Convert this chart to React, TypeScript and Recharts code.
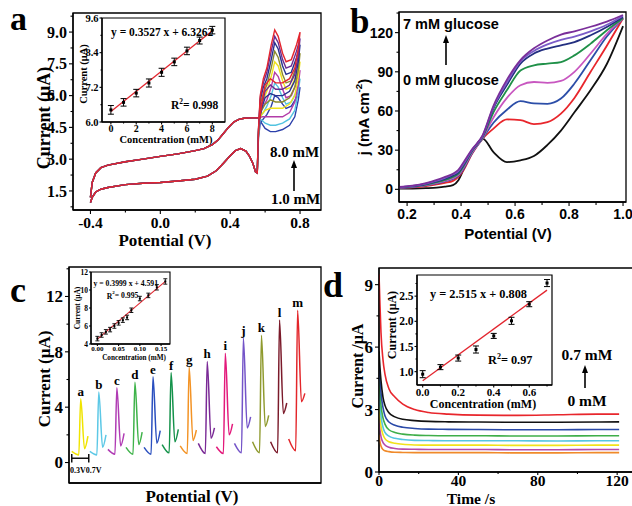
import React from 'react';
import { ComposedChart, Line, Scatter, XAxis, YAxis, ErrorBar, ReferenceArea, ReferenceLine } from 'recharts';

const SERIF = '"Liberation Serif", "Times New Roman", serif';
const SANS = '"Liberation Sans", Arial, sans-serif';

// ---------- panel a : CV curves, 1.0 - 8.0 mM (listed top to bottom) ----------
const aColors = ['#e3262f', '#6a2c91', '#27318f', '#8c8a2c', '#efe21c', '#b23ca8', '#52c3e0', '#2c40aa'];
const aLowX = [-0.4, -0.39, -0.37, -0.34, -0.3, -0.2, -0.1, 0.0, 0.1, 0.2, 0.27, 0.32, 0.36, 0.4, 0.43, 0.46, 0.49, 0.51, 0.53, 0.545, 0.555];
const aLowY = [0.95, 1.2, 1.45, 1.58, 1.66, 1.8, 1.86, 1.9, 1.97, 2.05, 2.2, 2.45, 2.8, 3.16, 3.4, 3.5, 3.38, 3.15, 2.8, 2.4, 2.35];
const aFwdX = [0.562, 0.572, 0.59, 0.61, 0.635, 0.655, 0.675, 0.7, 0.72, 0.75, 0.78, 0.8];
const aFwdY = [
  [4.4, 6.0, 6.8, 7.3, 8.4, 9.1, 8.8, 8.0, 7.6, 7.7, 8.4, 9.0],
  [4.4, 5.9, 6.6, 7.1, 8.1, 8.8, 8.5, 7.7, 7.3, 7.4, 8.1, 8.7],
  [4.3, 5.8, 6.4, 6.8, 7.7, 8.5, 8.2, 7.4, 7.0, 7.1, 7.8, 8.4],
  [4.3, 5.6, 6.1, 6.5, 7.3, 8.1, 7.8, 7.0, 6.6, 6.7, 7.4, 8.0],
  [4.2, 5.4, 5.8, 6.2, 6.9, 7.6, 7.4, 6.7, 6.3, 6.4, 7.0, 7.6],
  [4.2, 5.2, 5.5, 5.8, 6.4, 7.1, 6.9, 6.3, 5.9, 6.0, 6.6, 7.2],
  [4.1, 5.0, 5.2, 5.5, 6.0, 6.6, 6.4, 5.9, 5.6, 5.7, 6.2, 6.8],
  [4.0, 4.7, 4.9, 5.1, 5.5, 6.0, 5.9, 5.6, 5.4, 5.5, 5.9, 6.4],
];
const aRevX = [0.8, 0.79, 0.77, 0.74, 0.7, 0.66, 0.63, 0.6, 0.58, 0.57];
const aRevY = [
  [9.0, 8.2, 7.3, 6.8, 6.6, 6.6, 6.8, 6.5, 5.6, 5.0],
  [8.7, 7.9, 7.0, 6.5, 6.3, 6.3, 6.5, 6.2, 5.5, 5.0],
  [8.4, 7.6, 6.7, 6.2, 6.0, 6.0, 6.1, 5.9, 5.4, 5.0],
  [8.0, 7.2, 6.4, 5.9, 5.7, 5.7, 5.8, 5.6, 5.3, 5.0],
  [7.6, 6.9, 6.0, 5.6, 5.4, 5.4, 5.4, 5.3, 5.1, 4.95],
  [7.2, 6.5, 5.7, 5.2, 5.0, 5.0, 5.0, 5.0, 5.0, 4.95],
  [6.8, 6.2, 5.3, 4.9, 4.7, 4.6, 4.6, 4.7, 4.85, 4.9],
  [6.4, 5.8, 5.0, 4.6, 4.4, 4.3, 4.3, 4.45, 4.7, 4.9],
];
const aUpX = [0.57, 0.55, 0.52, 0.48, 0.45, 0.42, 0.39, 0.36, 0.33, 0.3, 0.25, 0.2, 0.1, 0.0, -0.1, -0.2, -0.3, -0.34, -0.37, -0.39, -0.4];
const aUpY = [4.95, 4.95, 4.95, 4.93, 4.88, 4.75, 4.5, 4.2, 3.9, 3.7, 3.5, 3.4, 3.25, 3.13, 3.0, 2.88, 2.72, 2.6, 2.35, 1.9, 1.2];
const aXTicks = [-0.4, -0.2, 0, 0.2, 0.4, 0.6, 0.8];
const aXMajor = [-0.4, 0, 0.4, 0.8];
const aYTicks = [0.75, 1.5, 2.25, 3, 3.75, 4.5, 5.25, 6, 6.75, 7.5, 8.25, 9, 9.75];
const aYMajor = [1.5, 3, 4.5, 6, 7.5, 9];

// panel a inset
const aConc = [0, 1, 2, 3, 4, 5, 6, 7, 8];
const aCur = [6.42, 6.68, 7.0, 7.35, 7.72, 8.08, 8.46, 8.82, 9.18];
const aErr = [0.15, 0.13, 0.13, 0.14, 0.14, 0.13, 0.13, 0.12, 0.13];
const aFitX = [0, 8];
const aFitY = [6.36, 9.16];
const aiXTicks = [0, 1, 2, 3, 4, 5, 6, 7, 8];
const aiXMajor = [0, 2, 4, 6, 8];
const aiYTicks = [6, 6.6, 7.2, 7.8, 8.4, 9.0, 9.6];
const aiYMajor = [6, 7.2, 8.4, 9.6];

// ---------- panel b : LSV, 0 - 7 mM glucose ----------
const bColors = ['#111111', '#e8262c', '#2c4ea8', '#c857c0', '#1f9048', '#232f80', '#7b5cc8', '#7a2f9a'];
const bX = [0.17, 0.22, 0.27, 0.31, 0.34, 0.37, 0.39, 0.41, 0.44, 0.48, 0.52, 0.57, 0.62, 0.67, 0.72, 0.77, 0.82, 0.88, 0.94, 1.0];
const bY = [
  [0.5, 0.6, 0.9, 1.3, 2.0, 3.2, 7, 15.5, 28, 38.8, 28.5, 20.9, 22.2, 25.5, 34, 45, 59, 76, 96, 125],
  [1.0, 1.5, 2.5, 3.8, 5.0, 6.5, 9.5, 15, 27, 38.8, 46.5, 53.5, 53, 50, 51.5, 58, 70, 90, 110, 131],
  [1.2, 1.8, 3.0, 4.5, 6.0, 8.0, 10.5, 16, 27.5, 39, 51, 61, 67.5, 65.8, 65.5, 69.5, 81, 99, 117, 131],
  [1.4, 2.0, 3.3, 5.0, 6.5, 8.5, 11, 17, 28, 39.5, 55, 70, 79.7, 82.2, 81.5, 83, 90, 104, 119, 131],
  [1.5, 2.2, 3.6, 5.5, 7.2, 9.5, 12, 18, 29, 40, 59, 76, 91, 95, 96.3, 97.5, 102.6, 111.6, 121.8, 131],
  [1.6, 2.4, 4.0, 6.0, 8.0, 10.5, 13, 19, 29.5, 40.5, 62, 80, 96.3, 104, 107.8, 110.3, 112.8, 118, 124.3, 132],
  [1.7, 2.6, 4.4, 6.6, 8.8, 11.5, 14, 20, 30, 41, 63, 82, 98, 106, 111, 114.5, 117, 121, 126, 133],
  [1.8, 2.8, 4.8, 7.2, 9.5, 12, 15, 21, 30.5, 41.5, 64, 84, 99, 108, 114, 118.5, 121, 124.5, 128.5, 133.5],
];
const bXTicks = [0.2, 0.3, 0.4, 0.5, 0.6, 0.7, 0.8, 0.9, 1.0];
const bXMajor = [0.2, 0.4, 0.6, 0.8, 1.0];
const bYTicks = [0, 15, 30, 45, 60, 75, 90, 105, 120, 135];
const bYMajor = [0, 30, 60, 90, 120];

// ---------- panel c : DPV peaks a - m ----------
const cLetters = ['a', 'b', 'c', 'd', 'e', 'f', 'g', 'h', 'i', 'j', 'k', 'l', 'm'];
const cColors = ['#f0e400', '#5cc8e6', '#b03cb4', '#3fb34a', '#2a4fbf', '#14924a', '#f39325', '#7a2a96', '#e3197b', '#7454c8', '#8f9a2e', '#7b1a2a', '#e3262a'];
const cOffsets = [0, 0.425, 0.85, 1.275, 1.7, 2.125, 2.55, 2.975, 3.4, 3.825, 4.25, 4.675, 5.1];
const cLocalX = [0.3, 0.465, 0.51, 0.6, 0.68];
const cStart = [0.8, 0.8, 0.95, 1.1, 1.1, 1.3, 1.2, 1.38, 1.14, 1.38, 1.5, 1.5, 1.7];
const cMin = [0.55, 0.55, 0.6, 0.6, 0.6, 0.7, 0.65, 0.65, 0.65, 0.7, 0.7, 0.7, 0.85];
const cPeak = [4.6, 5.1, 5.4, 5.8, 6.2, 6.5, 6.9, 7.3, 7.9, 9.0, 9.2, 10.3, 11.0];
const cDrop = [1.0, 1.1, 1.2, 1.3, 1.4, 1.5, 1.6, 1.75, 2.0, 2.5, 2.6, 3.55, 4.4];
const cTail = [1.9, 2.0, 2.1, 2.2, 2.3, 2.4, 2.35, 2.5, 2.8, 3.3, 3.4, 4.3, 5.0];
const cYTicks = [0, 2, 4, 6, 8, 10, 12, 14];
const cYMajor = [0, 4, 8, 12];

// panel c inset
const cConc = [0, 0.01, 0.02, 0.03, 0.04, 0.05, 0.06, 0.07, 0.08, 0.1, 0.12, 0.14, 0.16];
const cCur = [4.6, 5.0, 5.35, 5.6, 6.0, 6.35, 6.65, 6.95, 7.75, 9.05, 9.4, 10.3, 10.95];
const cErr = [0.25, 0.25, 0.25, 0.25, 0.25, 0.25, 0.25, 0.25, 0.25, 0.25, 0.25, 0.3, 0.3];
const cFitX = [0, 0.16];
const cFitY = [4.55, 10.95];
const ciXTicks = [0, 0.05, 0.1, 0.15];
const ciYTicks = [4, 6, 8, 10, 12];

// ---------- panel d : amperometry, 0 - 0.7 mM (top to bottom) ----------
const dColors = ['#e8262c', '#111111', '#2a4aa8', '#3fae49', '#56c5e0', '#f2e21a', '#b64aa8', '#f08a2a'];
const dT = [0, 0.5, 1, 2, 3, 5, 8, 12, 18, 25, 35, 50, 70, 90, 110, 121];
const dY = [
  [9.5, 8.0, 6.7, 5.4, 4.7, 4.0, 3.6, 3.26, 3.0, 2.86, 2.78, 2.73, 2.72, 2.75, 2.78, 2.78],
  [5.8, 5.0, 4.4, 3.6, 3.2, 2.85, 2.65, 2.53, 2.47, 2.43, 2.41, 2.4, 2.39, 2.39, 2.4, 2.41],
  [5.2, 4.4, 3.8, 3.1, 2.7, 2.4, 2.25, 2.15, 2.09, 2.06, 2.05, 2.04, 2.03, 2.03, 2.04, 2.04],
  [4.6, 3.8, 3.2, 2.6, 2.3, 2.03, 1.9, 1.82, 1.77, 1.75, 1.74, 1.74, 1.73, 1.73, 1.74, 1.74],
  [4.0, 3.2, 2.7, 2.15, 1.9, 1.72, 1.62, 1.56, 1.52, 1.51, 1.5, 1.5, 1.5, 1.49, 1.5, 1.5],
  [3.2, 2.6, 2.2, 1.8, 1.6, 1.45, 1.38, 1.33, 1.3, 1.29, 1.29, 1.29, 1.28, 1.28, 1.29, 1.29],
  [2.5, 2.0, 1.7, 1.42, 1.3, 1.19, 1.13, 1.1, 1.09, 1.08, 1.08, 1.08, 1.07, 1.07, 1.08, 1.08],
  [1.8, 1.45, 1.25, 1.08, 1.02, 0.98, 0.95, 0.94, 0.93, 0.93, 0.93, 0.93, 0.92, 0.92, 0.93, 0.93],
];
const dXTicks = [0, 20, 40, 60, 80, 100, 120];
const dXMajor = [0, 40, 80, 120];
const dYTicks = [0, 1.5, 3, 4.5, 6, 7.5, 9];
const dYMajor = [0, 3, 6, 9];

// panel d inset
const dConc = [0, 0.1, 0.2, 0.3, 0.4, 0.5, 0.6, 0.7];
const dCur = [0.95, 1.09, 1.27, 1.44, 1.71, 2.01, 2.34, 2.76];
const dErr = [0.07, 0.05, 0.06, 0.07, 0.05, 0.07, 0.05, 0.07];
const dFitX = [0, 0.7];
const dFitY = [0.82, 2.62];
const diXTicks = [0, 0.1, 0.2, 0.3, 0.4, 0.5, 0.6, 0.7];
const diXMajor = [0, 0.2, 0.4, 0.6];
const diYTicks = [1.0, 1.25, 1.5, 1.75, 2.0, 2.25, 2.5, 2.75];
const diYMajor = [1.0, 1.5, 2.0, 2.5];

const pts = (xs: number[], ys: number[]) => xs.map((x, i) => ({ x, y: ys[i] }));
const errPts = (xs: number[], ys: number[], es: number[]) => xs.map((x, i) => ({ x, y: ys[i], e: es[i] }));

type TickOpts = { side: 'left' | 'bottom'; major: number[]; digits: number; len: number; minor: number; gap: number; font: string; size: number };

function makeTick(o: TickOpts) {
  return (p: any) => {
    const v = p.payload.value as number;
    const isMajor = o.major.some((m) => Math.abs(m - v) < 1e-6);
    const l = isMajor ? o.len : o.minor;
    const txt = isMajor ? v.toFixed(o.digits) : '';
    if (o.side === 'left') {
      return (
        <g>
          <line x1={p.x - l} x2={p.x} y1={p.y} y2={p.y} stroke="#000" strokeWidth={1.1} />
          {txt && (
            <text x={p.x - o.len - o.gap} y={p.y} dy="0.35em" textAnchor="end" fontFamily={o.font} fontWeight="bold" fontSize={o.size} fill="#000">
              {txt}
            </text>
          )}
        </g>
      );
    }
    return (
      <g>
        <line x1={p.x} x2={p.x} y1={p.y} y2={p.y + l} stroke="#000" strokeWidth={1.1} />
        {txt && (
          <text x={p.x} y={p.y + o.len + o.gap} dy="0.75em" textAnchor="middle" fontFamily={o.font} fontWeight="bold" fontSize={o.size} fill="#000">
            {txt}
          </text>
        )}
      </g>
    );
  };
}

const AX = { stroke: '#000', strokeWidth: 1.3 };
const square = (s: number) => (p: any) => <rect x={p.cx - s / 2} y={p.cy - s / 2} width={s} height={s} fill="#000" />;

function Arrow({ x, y1, y2 }: { x: number; y1: number; y2: number }) {
  return (
    <g>
      <line x1={x} x2={x} y1={y1} y2={y2 + 6} stroke="#000" strokeWidth={1.6} />
      <polygon points={`${x - 3},${y2 + 8} ${x + 3},${y2 + 8} ${x},${y2}`} fill="#000" />
    </g>
  );
}

function Sup({ children }: { children: React.ReactNode }) {
  return (
    <tspan dy={-5} fontSize="65%">
      {children}
    </tspan>
  );
}

function PanelA() {
  const order = aColors.map((_, i) => i).reverse();
  return (
    <ComposedChart width={330} height={250} margin={{ top: 13, right: 9, bottom: 0, left: 0 }}>
      <XAxis dataKey="x" type="number" domain={[-0.5, 0.92]} ticks={aXTicks} interval={0} allowDataOverflow height={40} tickSize={0} tickMargin={0} axisLine={AX}
        tick={makeTick({ side: 'bottom', major: aXMajor, digits: 1, len: 4, minor: 2.5, gap: 2, font: SERIF, size: 15.5 })} />
      <YAxis type="number" domain={[0.6, 9.9]} ticks={aYTicks} interval={0} allowDataOverflow width={73} tickSize={0} tickMargin={0} axisLine={AX}
        tick={makeTick({ side: 'left', major: aYMajor, digits: 1, len: 4, minor: 2.5, gap: 2, font: SERIF, size: 16 })} />
      <ReferenceArea x1={-0.5} x2={0.92} y1={0.6} y2={9.9} fill="none" fillOpacity={0} stroke="#000" strokeWidth={1.3} ifOverflow="visible" />
      {order.map((i) => (
        <Line key={i} data={[...pts(aLowX, aLowY), ...pts(aFwdX, aFwdY[i]), ...pts(aRevX, aRevY[i]), ...pts(aUpX, aUpY)]} dataKey="y" type="linear"
          stroke={aColors[i]} strokeWidth={1.4} dot={false} isAnimationActive={false} />
      ))}
    </ComposedChart>
  );
}

function PanelAInset() {
  return (
    <ComposedChart width={160} height={135} margin={{ top: 8, right: 5, bottom: 0, left: 0 }}>
      <XAxis dataKey="x" type="number" domain={[-0.7, 9.0]} ticks={aiXTicks} interval={0} allowDataOverflow height={23} tickSize={0} tickMargin={0} axisLine={AX}
        tick={makeTick({ side: 'bottom', major: aiXMajor, digits: 0, len: 2.5, minor: 1.5, gap: 0, font: SERIF, size: 10 })} />
      <YAxis type="number" domain={[6, 9.6]} ticks={aiYTicks} interval={0} allowDataOverflow width={32} tickSize={0} tickMargin={0} axisLine={AX}
        tick={makeTick({ side: 'left', major: aiYMajor, digits: 1, len: 2.5, minor: 1.5, gap: 1, font: SERIF, size: 10.5 })} />
      <ReferenceArea x1={-0.7} x2={9.0} y1={6} y2={9.6} fill="#fff" fillOpacity={1} stroke="#000" strokeWidth={1.2} ifOverflow="visible" />
      <Line data={pts(aFitX, aFitY)} dataKey="y" type="linear" stroke="#e3262f" strokeWidth={1.3} dot={false} isAnimationActive={false} />
      <Scatter data={errPts(aConc, aCur, aErr)} dataKey="y" shape={square(3)} isAnimationActive={false}>
        <ErrorBar dataKey="e" direction="y" width={3} stroke="#000" strokeWidth={1} />
      </Scatter>
    </ComposedChart>
  );
}

function PanelB() {
  return (
    <ComposedChart width={302} height={250} margin={{ top: 12, right: 6, bottom: 0, left: 0 }}>
      <XAxis dataKey="x" type="number" domain={[0.17, 1.011]} ticks={bXTicks} interval={0} allowDataOverflow height={48} tickSize={0} tickMargin={0} axisLine={AX}
        tick={makeTick({ side: 'bottom', major: bXMajor, digits: 1, len: 4, minor: 3, gap: 2, font: SANS, size: 14 })} />
      <YAxis type="number" domain={[-9.7, 135.8]} ticks={bYTicks} interval={0} allowDataOverflow width={69} tickSize={0} tickMargin={0} axisLine={AX}
        tick={makeTick({ side: 'left', major: bYMajor, digits: 0, len: 4, minor: 2.5, gap: 2, font: SANS, size: 14 })} />
      <ReferenceArea x1={0.17} x2={1.011} y1={-9.7} y2={135.8} fill="none" fillOpacity={0} stroke="#000" strokeWidth={1.3} ifOverflow="visible" />
      {bColors.map((c, i) => (
        <Line key={i} data={pts(bX, bY[i])} dataKey="y" type="monotone" stroke={c} strokeWidth={1.8} dot={false} isAnimationActive={false} />
      ))}
    </ComposedChart>
  );
}

function PanelC() {
  const labels = cLetters.map((name, i) => ({ x: cOffsets[i] + cLocalX[2], y: cPeak[i] + 0.22, name }));
  return (
    <ComposedChart width={330} height={256} margin={{ top: 17, right: 9, bottom: 0, left: 0 }}>
      <XAxis dataKey="x" type="number" domain={[0.235, 6.16]} allowDataOverflow height={23} tick={false} tickLine={false} axisLine={AX} />
      <YAxis type="number" domain={[-1.48, 14.13]} ticks={cYTicks} interval={0} allowDataOverflow width={69} tickSize={0} tickMargin={0} axisLine={AX}
        tick={makeTick({ side: 'left', major: cYMajor, digits: 0, len: 4, minor: 2.5, gap: 2, font: SERIF, size: 17 })} />
      <ReferenceArea x1={0.235} x2={6.16} y1={-1.48} y2={14.13} fill="none" fillOpacity={0} stroke="#000" strokeWidth={1.3} ifOverflow="visible" />
      {cLetters.map((_, i) => (
        <Line key={i} data={pts(cLocalX.map((x) => x + cOffsets[i]), [cStart[i], cMin[i], cPeak[i], cDrop[i], cTail[i]])} dataKey="y" type="monotone"
          stroke={cColors[i]} strokeWidth={1.5} dot={false} isAnimationActive={false} />
      ))}
      <Scatter data={labels} dataKey="y" isAnimationActive={false}
        shape={(p: any) => (
          <text x={p.cx} y={p.cy} textAnchor="middle" fontFamily={SERIF} fontWeight="bold" fontSize={13} fill="#000">
            {p.payload.name}
          </text>
        )} />
      <ReferenceLine segment={[{ x: 0.3, y: 0.31 }, { x: 0.7, y: 0.31 }]} stroke="#000" strokeWidth={1.4} ifOverflow="visible" />
      <ReferenceLine segment={[{ x: 0.3, y: 0.0 }, { x: 0.3, y: 0.62 }]} stroke="#000" strokeWidth={1.4} ifOverflow="visible" />
      <ReferenceLine segment={[{ x: 0.7, y: 0.0 }, { x: 0.7, y: 0.62 }]} stroke="#000" strokeWidth={1.4} ifOverflow="visible" />
    </ComposedChart>
  );
}

function PanelCInset() {
  return (
    <ComposedChart width={112} height={97} margin={{ top: 8, right: 4, bottom: 0, left: 0 }}>
      <XAxis dataKey="x" type="number" domain={[-0.015, 0.171]} ticks={ciXTicks} interval={0} allowDataOverflow height={17} tickSize={0} tickMargin={0} axisLine={AX}
        tick={makeTick({ side: 'bottom', major: ciXTicks, digits: 2, len: 2, minor: 1, gap: 0, font: SERIF, size: 7 })} />
      <YAxis type="number" domain={[4, 12]} ticks={ciYTicks} interval={0} allowDataOverflow width={29} tickSize={0} tickMargin={0} axisLine={AX}
        tick={makeTick({ side: 'left', major: ciYTicks, digits: 0, len: 2, minor: 1, gap: 1, font: SERIF, size: 7.5 })} />
      <ReferenceArea x1={-0.015} x2={0.171} y1={4} y2={12} fill="#fff" fillOpacity={1} stroke="#000" strokeWidth={1.1} ifOverflow="visible" />
      <Line data={pts(cFitX, cFitY)} dataKey="y" type="linear" stroke="#e3262f" strokeWidth={1.1} dot={false} isAnimationActive={false} />
      <Scatter data={errPts(cConc, cCur, cErr)} dataKey="y" shape={square(2)} isAnimationActive={false}>
        <ErrorBar dataKey="e" direction="y" width={2} stroke="#000" strokeWidth={0.9} />
      </Scatter>
    </ComposedChart>
  );
}

function PanelD() {
  const order = dColors.map((_, i) => i).reverse();
  return (
    <ComposedChart width={307} height={256} margin={{ top: 18, right: 0, bottom: 0, left: 0 }}>
      <XAxis dataKey="x" type="number" domain={[0, 130]} ticks={dXTicks} interval={0} allowDataOverflow height={34} tickSize={0} tickMargin={0} axisLine={AX}
        tick={makeTick({ side: 'bottom', major: dXMajor, digits: 0, len: 3, minor: 2, gap: -1, font: SERIF, size: 15.5 })} />
      <YAxis type="number" domain={[0, 9.8]} ticks={dYTicks} interval={0} allowDataOverflow width={49} tickSize={0} tickMargin={0} axisLine={AX}
        tick={makeTick({ side: 'left', major: dYMajor, digits: 0, len: 4, minor: 2.5, gap: 2, font: SERIF, size: 17 })} />
      <ReferenceArea x1={0} x2={130} y1={0} y2={9.8} fill="none" fillOpacity={0} stroke="#000" strokeWidth={1.3} ifOverflow="visible" />
      {order.map((i) => (
        <Line key={i} data={pts(dT, dY[i])} dataKey="y" type="monotone" stroke={dColors[i]} strokeWidth={1.6} dot={false} isAnimationActive={false} />
      ))}
    </ComposedChart>
  );
}

function PanelDInset() {
  return (
    <ComposedChart width={172} height={135} margin={{ top: 7, right: 5, bottom: 0, left: 0 }}>
      <XAxis dataKey="x" type="number" domain={[-0.032, 0.728]} ticks={diXTicks} interval={0} allowDataOverflow height={18} tickSize={0} tickMargin={0} axisLine={AX}
        tick={makeTick({ side: 'bottom', major: diXMajor, digits: 1, len: 2.5, minor: 1.5, gap: 0, font: SERIF, size: 11 })} />
      <YAxis type="number" domain={[0.735, 2.92]} ticks={diYTicks} interval={0} allowDataOverflow width={32} tickSize={0} tickMargin={0} axisLine={AX}
        tick={makeTick({ side: 'left', major: diYMajor, digits: 1, len: 2.5, minor: 1.5, gap: 1, font: SERIF, size: 11.5 })} />
      <ReferenceArea x1={-0.032} x2={0.728} y1={0.735} y2={2.92} fill="#fff" fillOpacity={1} stroke="#000" strokeWidth={1.2} ifOverflow="visible" />
      <Line data={pts(dFitX, dFitY)} dataKey="y" type="linear" stroke="#e3262f" strokeWidth={1.3} dot={false} isAnimationActive={false} />
      <Scatter data={errPts(dConc, dCur, dErr)} dataKey="y" shape={square(3)} isAnimationActive={false}>
        <ErrorBar dataKey="e" direction="y" width={3} stroke="#000" strokeWidth={1} />
      </Scatter>
    </ComposedChart>
  );
}

const tb = { fontFamily: SERIF, fontWeight: 'bold' as const, fill: '#000' };
const ts = { fontFamily: SANS, fontWeight: 'bold' as const, fill: '#000' };

function Overlay() {
  const rot = (x: number, y: number) => `rotate(-90 ${x} ${y})`;
  return (
    <svg width={632} height={506} style={{ position: 'absolute', left: 0, top: 0, pointerEvents: 'none' }}>
      {/* panel letters */}
      <text x={10} y={30} fontSize={34} {...tb}>a</text>
      <text x={350} y={33} fontSize={35} {...tb}>b</text>
      <text x={10} y={302} fontSize={36} {...tb}>c</text>
      <text x={323} y={297} fontSize={36} {...tb}>d</text>

      {/* panel a */}
      <text x={44} y={118} transform={rot(44, 118)} textAnchor="middle" dominantBaseline="central" fontSize={18} {...tb}>Current (μA)</text>
      <text x={165} y={240} textAnchor="middle" dominantBaseline="central" fontSize={17} {...tb}>Potential (V)</text>
      <text x={270} y={157} fontSize={15} {...tb}>8.0 mM</text>
      <text x={271} y={204} fontSize={15} {...tb}>1.0 mM</text>
      <Arrow x={294} y1={191} y2={160} />
      <text x={83} y={74} transform={rot(83, 74)} textAnchor="middle" dominantBaseline="central" fontSize={10.5} {...tb}>Current (μA)</text>
      <text x={166} y={139} textAnchor="middle" dominantBaseline="central" fontSize={10.5} {...tb}>Concentration (mM)</text>
      <text x={111} y={36} fontSize={11.5} {...tb}>y = 0.3527 x + 6.3262</text>
      <text x={171} y={109} fontSize={11.5} {...tb}>R<Sup>2</Sup><tspan dy={5}>= 0.998</tspan></text>

      {/* panel b */}
      <text x={363} y={117} transform={rot(363, 117)} textAnchor="middle" dominantBaseline="central" fontSize={15} {...ts}>j (mA cm<Sup>-2</Sup><tspan dy={5}>)</tspan></text>
      <text x={508} y={233} textAnchor="middle" dominantBaseline="central" fontSize={15} {...ts}>Potential (V)</text>
      <text x={403} y={29} fontSize={14.5} {...ts}>7 mM glucose</text>
      <text x={403} y={85} fontSize={14.5} {...ts}>0 mM glucose</text>
      <Arrow x={446} y1={65} y2={35} />

      {/* panel c */}
      <text x={44} y={379} transform={rot(44, 379)} textAnchor="middle" dominantBaseline="central" fontSize={17} {...tb}>Current (μA)</text>
      <text x={192} y={496} textAnchor="middle" dominantBaseline="central" fontSize={17} {...tb}>Potential (V)</text>
      <text x={70} y={473} fontSize={8} {...tb}>0.3V0.7V</text>
      <text x={77} y={308} transform={rot(77, 308)} textAnchor="middle" dominantBaseline="central" fontSize={7.5} {...tb}>Current (μA)</text>
      <text x={134} y={357.5} textAnchor="middle" dominantBaseline="central" fontSize={7.2} {...tb}>Concentration (mM)</text>
      <text x={93.5} y={285.5} fontSize={7.7} {...tb}>y = 0.3999 x + 4.591</text>
      <text x={106.7} y={298.7} fontSize={7.7} {...tb}>R<Sup>2</Sup><tspan dy={4}>= 0.995</tspan></text>

      {/* panel d */}
      <text x={357} y={366} transform={rot(357, 366)} textAnchor="middle" dominantBaseline="central" fontSize={16} {...tb}>Current /μA</text>
      <text x={471} y={498.5} textAnchor="middle" dominantBaseline="central" fontSize={15.5} {...tb}>Time /s</text>
      <text x={587} y={360} textAnchor="middle" fontSize={15.5} {...tb}>0.7 mM</text>
      <text x={587} y={406} textAnchor="middle" fontSize={15.5} {...tb}>0 mM</text>
      <Arrow x={585} y1={388} y2={365} />
      <text x={392} y={325} transform={rot(392, 325)} textAnchor="middle" dominantBaseline="central" fontSize={12} {...tb}>Current (μA)</text>
      <text x={483} y={404} textAnchor="middle" dominantBaseline="central" fontSize={12} {...tb}>Concentration (mM)</text>
      <text x={430} y={298} fontSize={12.3} {...tb}>y = 2.515 x + 0.808</text>
      <text x={488} y={364} fontSize={12.3} {...tb}>R<Sup>2</Sup><tspan dy={5}>= 0.97</tspan></text>
    </svg>
  );
}

const at = (left: number, top: number): React.CSSProperties => ({ position: 'absolute', left, top });

export default function App() {
  return (
    <div style={{ position: 'absolute', left: 0, top: 0, width: 632, height: 506, overflow: 'hidden', background: '#fff' }}>
      <div style={at(0, 0)}><PanelA /></div>
      <div style={at(330, 0)}><PanelB /></div>
      <div style={at(0, 250)}><PanelC /></div>
      <div style={at(330, 250)}><PanelD /></div>
      <div style={at(70, 10)}><PanelAInset /></div>
      <div style={at(62, 264)}><PanelCInset /></div>
      <div style={at(385, 268)}><PanelDInset /></div>
      <Overlay />
    </div>
  );
}
